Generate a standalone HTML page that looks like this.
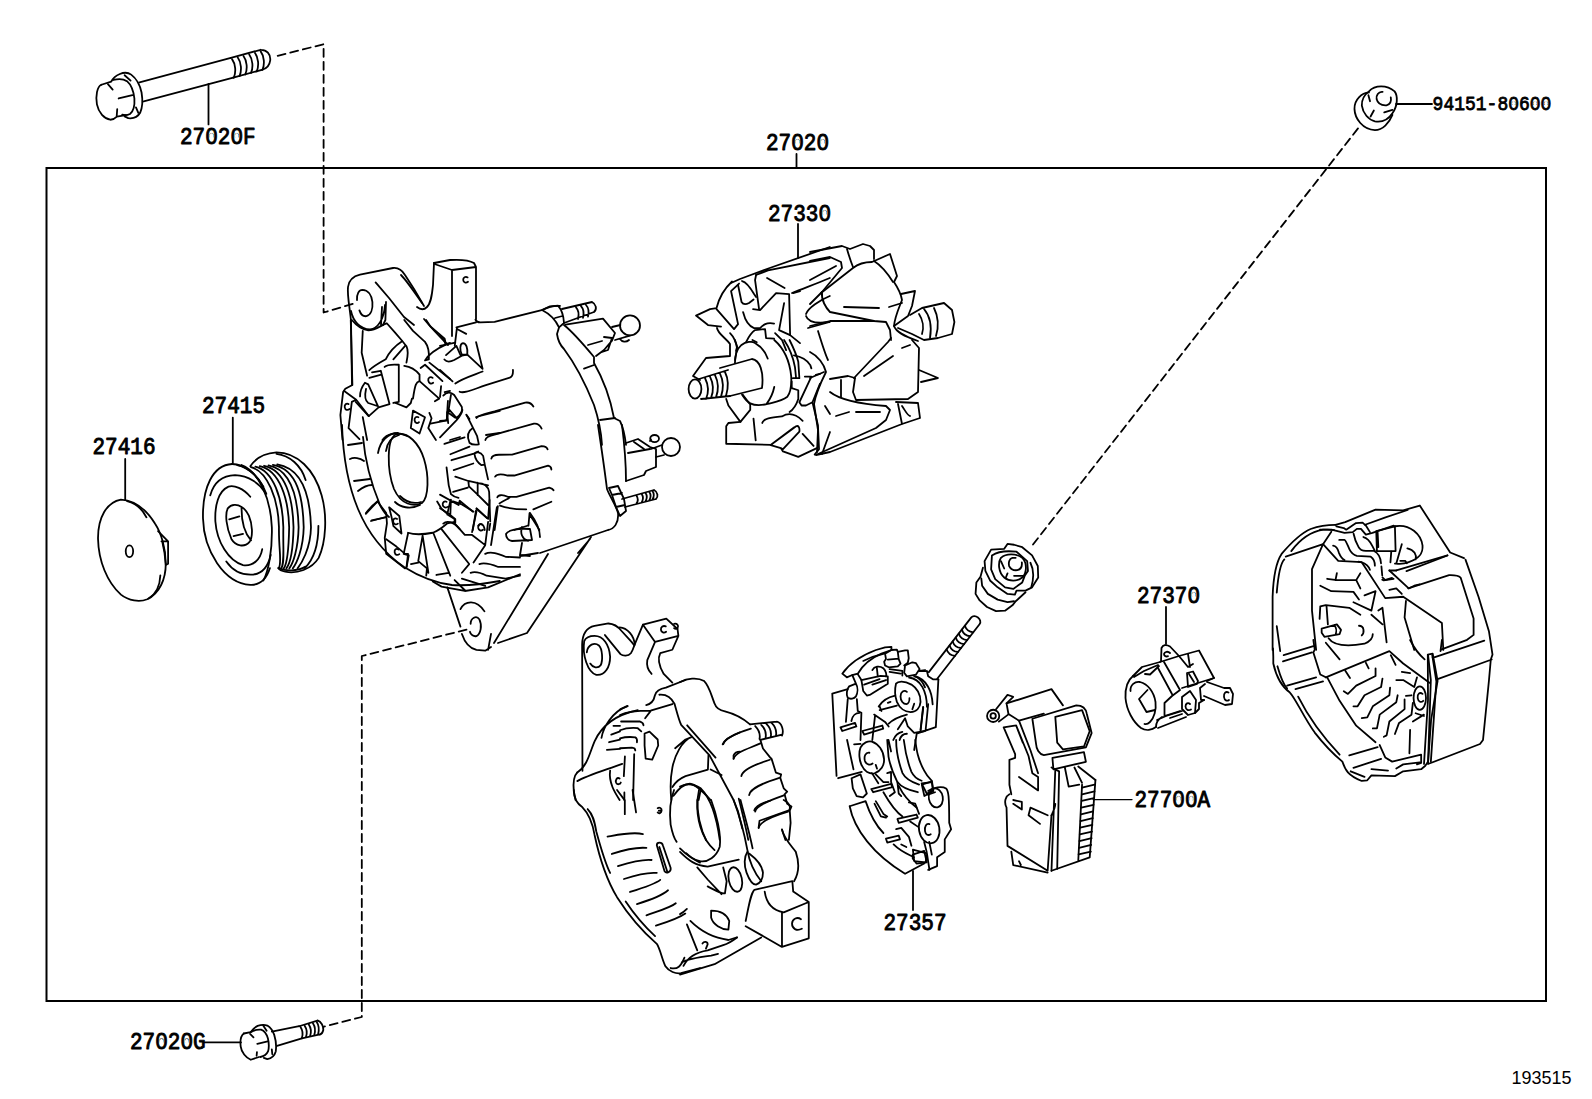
<!DOCTYPE html>
<html><head><meta charset="utf-8"><style>
html,body{margin:0;padding:0;background:#fff;width:1592px;height:1099px;overflow:hidden}
svg{position:absolute;left:0;top:0}
text{font-family:"Liberation Mono",monospace;font-weight:normal;fill:#000;stroke:#000;stroke-width:0.85px}
.n *{vector-effect:non-scaling-stroke}
</style></head><body>
<svg width="1592" height="1099" viewBox="0 0 1592 1099">
<g fill="none" stroke="#000" stroke-width="1.8" stroke-linejoin="round" stroke-linecap="round">
<!-- 00_frame.svg -->
<path d="M46.5 168H1546V1001H46.5Z" stroke-width="2" stroke-linejoin="miter"/>
<path d="M796.5 154V168M798 224V258M1166 607V644M913 871V910M203.5 1042.4H241M232.8 417.6V463M125.2 459V500M208.5 84V124.4M1396 104H1432" stroke-width="1.8"/>
<path d="M1093 799.6H1132" stroke-width="1.3"/>
<g stroke-dasharray="8 5" stroke-width="1.8">
<path d="M277.7 55.9L323.6 44.2V312.5L355.5 303"/>
<path d="M466.5 629.6L361.8 656V1017L324 1026.6"/>
<path d="M1358 128.4L1030.6 547.6"/>
</g>
<g stroke="none">
<text transform="translate(180,143.5) scale(1,1.1)" font-size="21">27020F</text>
<text transform="translate(766,149.5) scale(1,1.1)" font-size="21">27020</text>
<text transform="translate(768,220.5) scale(1,1.1)" font-size="21">27330</text>
<text transform="translate(202,412.5) scale(1,1.1)" font-size="21">27415</text>
<text transform="translate(92.5,454) scale(1,1.1)" font-size="21">27416</text>
<text transform="translate(1137,602.5) scale(1,1.1)" font-size="21">27370</text>
<text transform="translate(1134.5,806.5) scale(1,1.1)" font-size="21">27700A</text>
<text transform="translate(883.5,929.5) scale(1,1.1)" font-size="21">27357</text>
<text transform="translate(130,1049) scale(1,1.1)" font-size="21">27020G</text>
<text transform="translate(1432.6,109.5) scale(1,1.12)" font-size="18" style="stroke-width:0.75px">94151-80600</text>
<text transform="translate(1511.5,1083.8) scale(1,1.05)" font-size="18" style="font-family:'Liberation Sans';font-weight:normal;stroke:none">193515</text>
</g>
<g id="zmask" fill="#fff" stroke="none"><ellipse cx="211.5" cy="135.9" rx="1.8" ry="2.7"/><ellipse cx="236.7" cy="135.9" rx="1.8" ry="2.7"/><ellipse cx="797.5" cy="141.9" rx="1.8" ry="2.7"/><ellipse cx="822.7" cy="141.9" rx="1.8" ry="2.7"/><ellipse cx="824.7" cy="212.9" rx="1.8" ry="2.7"/><ellipse cx="1193.7" cy="594.9" rx="1.8" ry="2.7"/><ellipse cx="1178.6" cy="798.9" rx="1.8" ry="2.7"/><ellipse cx="1191.2" cy="798.9" rx="1.8" ry="2.7"/><ellipse cx="161.5" cy="1041.4" rx="1.8" ry="2.7"/><ellipse cx="186.7" cy="1041.4" rx="1.8" ry="2.7"/><ellipse cx="1513.6" cy="103.2" rx="1.5" ry="2.3"/><ellipse cx="1535.2" cy="103.2" rx="1.5" ry="2.3"/><ellipse cx="1546.0" cy="103.2" rx="1.5" ry="2.3"/></g>

<!-- 01_boltF.svg -->
<g class="n" transform="translate(90 40) scale(0.11935)">
<path d="M95 375C60 390 45 470 58 540C72 610 120 660 170 668C195 668 212 655 225 642L300 630"/>
<path d="M95 375L178 348C190 325 215 300 250 285C280 272 320 272 345 290C385 320 420 380 432 440C442 500 438 570 420 610C400 645 360 660 320 655L290 640"/>
<path d="M195 335C230 325 280 325 310 345C345 375 365 430 372 490C376 550 360 600 335 620C310 632 285 630 270 625"/>
<path d="M150 370L190 415M228 580L224 635M240 490L355 462M290 295L340 340M385 565L405 610"/>
<path d="M415 355L1180 150M450 515L1200 315"/>
<path d="M1180 150L1430 82M1200 315L1440 250M1430 82C1480 80 1515 120 1510 170C1505 210 1480 240 1440 250"/>
<path d="M1190 160C1220 200 1225 270 1205 315M1238 147C1268 187 1273 257 1253 302M1286 134C1316 174 1321 244 1301 289M1334 121C1364 161 1369 231 1349 276M1382 108C1412 148 1417 218 1397 263M1430 95C1460 135 1465 205 1445 250"/>
</g>

<!-- 02_boltG.svg -->
<g class="n" transform="translate(230 1010) scale(0.06911)">
<path d="M200 340C160 370 145 450 155 530C165 610 230 690 300 720L420 680"/>
<path d="M200 340L300 320C320 290 350 255 400 230C440 215 500 210 540 225C580 250 620 300 640 360C665 440 672 530 662 600C645 660 600 700 540 712L490 692"/>
<path d="M300 320C340 295 400 280 450 285C490 300 530 350 548 410C565 480 565 550 550 600C530 645 490 670 440 680"/>
<path d="M290 345L340 395M395 490L545 455M390 610L385 662M480 225L530 300M605 570L612 640"/>
<path d="M605 312L1000 235M680 520L1040 410"/>
<path d="M1000 235L1265 155M1040 410L1300 352M1265 150C1320 170 1355 230 1350 290C1342 330 1320 350 1300 358"/>
<path d="M1020 245C1050 290 1055 360 1040 405M1080 228C1110 273 1115 343 1100 388M1140 210C1170 255 1175 325 1160 372M1200 192C1230 237 1235 307 1220 358M1255 175C1285 220 1290 290 1275 352"/>
</g>

<!-- 03_cap.svg -->
<g class="n" transform="translate(90 440) scale(0.15464)">
<path d="M200 385C110 400 50 500 52 640C55 780 110 920 200 1000C250 1040 320 1050 370 1030C450 990 490 900 490 800C490 700 460 600 420 540C370 460 300 390 200 385Z"/>
<path d="M240 395C300 410 340 450 365 500M455 875C452 950 420 1000 380 1025"/>
<path d="M440 590L505 655L505 800L490 808M462 655L505 655M468 660C478 700 486 750 490 808"/>
<ellipse cx="255" cy="720" rx="24" ry="38"/>
</g>

<!-- 04_pulley.svg -->
<g class="n" transform="translate(195 440) scale(0.14553)">
<path d="M255 165C120 172 50 330 55 540C60 760 200 985 380 995C440 998 490 960 515 880"/>
<path d="M255 165C340 168 420 230 470 320"/>
<path d="M290 172C380 190 450 270 490 370"/>
<path d="M105 380C130 290 190 245 275 242C370 245 445 300 485 365"/>
<path d="M380 390C330 330 270 310 230 320C160 350 135 450 140 560C150 700 230 830 330 860C400 870 450 820 462 750"/>
<path d="M215 835C260 900 330 930 400 925C470 915 505 860 520 790"/>
<path d="M320 460C290 440 250 440 225 470C205 510 215 600 250 680C280 730 340 740 375 700C400 660 395 580 370 520C355 490 340 470 320 460ZM320 460C318 560 340 640 385 690M235 545L305 525M265 660L330 645"/>
<path d="M320 172C440 220 520 400 528 600C532 760 505 900 470 965"/>
<path d="M385 186C497 216 572 400 577 600C574 750 600 850 575 882"/>
<path d="M415 183C539 213 602 400 607 600C604 750 617 850 592 882"/>
<path d="M445 180C581 210 642 400 647 600C644 750 635 850 610 882"/>
<path d="M475 177C623 207 672 400 677 600C674 750 653 850 628 882"/>
<path d="M505 174C665 204 707 400 712 600C709 750 673 850 648 882"/>
<path d="M535 171C707 201 742 400 747 600C744 750 697 850 672 882"/>
<path d="M565 168C749 198 792 400 797 600C794 750 730 850 705 882"/>
<path d="M380 180C420 120 480 90 560 85C700 85 820 200 870 380C910 520 900 700 850 810C800 890 700 920 620 905C595 900 578 890 572 880"/>
<path d="M560 95C650 105 730 175 760 275M848 590C848 700 822 815 755 880"/>
<path d="M575 880C620 900 700 905 760 870"/>
</g>

<!-- 05_altA.svg -->
<g class="n" transform="translate(320 225) scale(0.2)">
<!-- ear -->
<path d="M160 800L155 480C150 420 135 350 140 310C145 270 170 255 200 248L365 215C390 212 410 225 425 250L470 320L520 405"/>
<path d="M405 250C430 275 455 310 510 390"/>
<path d="M485 410C500 422 520 425 535 410C555 390 560 350 565 300L570 190"/>
<path d="M570 190L650 175C700 172 750 178 770 190L780 210L660 225L572 195M660 225L660 555M780 210L780 470"/>
<path d="M738 262C728 255 715 262 716 275C717 288 730 292 740 284"/>
<path d="M185 375C183 345 195 324 212 324C240 325 258 350 262 385C265 420 255 450 232 456C215 458 203 445 197 427"/>
<path d="M155 430C165 480 200 520 250 522C290 518 320 470 325 400M310 410L305 500M330 385L327 475L315 500"/>
<path d="M278 287L345 365L420 460L470 500"/>
<path d="M520 470C560 520 600 560 640 600"/>
<!-- terminal post under box -->
<path d="M650 1075L700 1060M780 960L899 930M830 1050L899 1040"/>
</g>

<!-- 05b_altFan.svg -->
<g class="n" transform="translate(330 320) scale(0.1092)">
<path d="M190 0L205 595L140 630L120 660L95 870L115 1099"/>
<path d="M300 100L290 300L340 510"/>
<path d="M200 0C250 60 300 90 350 95C420 95 480 40 520 30L600 120L660 190L700 240C715 270 720 300 700 390"/>
<path d="M680 0L760 100L870 200C900 240 910 290 905 360L870 370M880 0L920 60L1050 170L1060 220L1099 210M870 370C900 320 960 270 1060 225"/>
<path d="M360 460C380 440 420 410 510 360C530 320 560 260 660 195M580 360L690 235"/>
<path d="M385 480L465 465L545 770L445 800L355 880L235 750M360 530L470 500"/>
<path d="M275 700C275 660 285 620 320 575L350 590L440 790L350 760C320 740 315 700 330 630"/>
<path d="M500 430C520 410 560 405 630 410L630 750L580 760"/>
<path d="M600 760L700 800L740 760L750 720M680 420C720 425 780 450 820 500L820 560C790 570 780 580 760 720"/>
<path d="M830 440L870 410L1030 560M820 560L1000 720L960 745M910 390L1099 540"/>
<path d="M940 530C920 515 895 530 900 555C905 580 925 590 945 575"/>
<path d="M130 650L240 730L200 750L170 990L270 1090M240 730L355 880"/>
<path d="M170 770C150 760 130 775 135 800C140 825 160 830 180 815"/>
<path d="M300 890L340 1099"/>
<path d="M760 830L870 890L820 1040L740 990ZM810 890C790 880 770 895 775 920C780 945 800 950 815 935"/>
<path d="M910 850L930 900L900 990L970 1099M920 950L1070 920M1050 660L1099 650M1080 740L1070 900"/>
<path d="M480 1099C520 1040 600 1020 700 1060"/>
</g>

<!-- 05c_altTop.svg -->
<g class="n" transform="translate(440 300) scale(0.1092)">
<path d="M150 250L330 205M155 255L135 420M165 270L240 310"/>
<path d="M200 500C180 460 180 400 210 395C240 395 255 440 250 500Z"/>
<path d="M40 545C60 570 90 570 130 550L200 510L250 500L390 630M55 505L150 420L190 510M330 385L390 630"/>
<path d="M140 765C200 720 300 690 390 655"/>
<path d="M180 840C220 860 300 820 420 780L640 710C670 700 670 670 668 640"/>
<path d="M335 1080C350 1050 420 1040 500 1020L780 940C810 935 840 950 855 975"/>
<path d="M0 640L115 745M0 420L140 390M0 330C20 340 40 370 50 400"/>
<path d="M30 875C60 840 100 840 130 870L200 980C210 1020 190 1050 150 1080M100 870L80 1000L150 1080M60 1099L80 1000M240 1050L270 1090M10 790L0 890"/>
<path d="M325 180C330 195 345 205 370 205L500 200L940 90C980 70 1040 50 1099 55"/>
</g>

<!-- 05d_altMid.svg -->
<g class="n" transform="translate(440 410) scale(0.1092)">
<path d="M0 100L60 95M0 250L150 95C180 60 200 30 205 0M65 20L75 120M70 20L140 70"/>
<path d="M245 50L300 160L340 240L355 310M300 165C260 190 240 230 270 300C285 315 310 322 355 315"/>
<path d="M40 310L225 250M95 405L270 335M105 460L310 400L350 380M125 550L305 490"/>
<path d="M315 400C330 380 370 380 395 420L410 500L440 635M315 400C320 440 340 480 380 505L410 500"/>
<path d="M415 275C420 245 450 235 500 225L860 125C890 120 920 140 930 170"/>
<path d="M470 445C475 420 500 410 540 410L660 408L930 330C960 330 980 340 985 360"/>
<path d="M505 610C520 585 560 585 620 600L680 600L990 510C1010 515 1020 530 1020 545"/>
<path d="M525 800C530 780 570 770 620 795L700 795L1000 710C1020 715 1035 725 1040 735M545 855C580 830 620 815 640 800"/>
<path d="M550 875C600 895 650 910 790 910M855 910L1020 840"/>
<path d="M60 525L80 690L100 770C120 790 150 800 170 805"/>
<path d="M140 610L260 650L440 690M260 655L265 700L340 770L440 870M345 665L345 780M345 670C400 670 440 700 450 750L460 1020"/>
<path d="M120 750L255 710"/>
<path d="M0 775L170 870L180 830L300 930M0 900L80 950L140 1000L140 1030M100 820L95 950M30 1040C60 1010 120 1020 180 1090"/>
<path d="M60 840C40 830 20 845 25 870C30 895 55 900 75 885"/>
<path d="M335 900L430 990M330 920L300 1099M350 1060C370 1030 400 1040 410 1099"/>
<path d="M530 880L500 1099M820 945L810 1060M820 960C850 1000 880 1050 910 1099M680 1099L800 1060M460 1040L450 1099"/>
</g>

<!-- 05e_altLow.svg -->
<g class="n" transform="translate(360 500) scale(0.14558)">
<path d="M40 95L120 10L180 90L185 160L170 260L180 370L310 470M80 140L175 120"/>
<path d="M200 50L270 110L285 230L230 180L215 110Z"/>
<path d="M255 130C240 120 225 130 228 150C231 168 248 172 260 162"/>
<path d="M180 270L250 320L310 370L330 370L320 460"/>
<path d="M265 340C250 330 235 340 238 360C241 378 258 382 270 372"/>
<path d="M330 225C360 235 420 240 500 225C530 215 560 195 600 160L650 150"/>
<path d="M330 230L300 370L335 380L320 460M430 245L400 420L460 470L455 520M430 245L470 500M350 440L400 430"/>
<path d="M505 230L620 520M525 515L610 500M560 200L750 440L700 500"/>
<path d="M530 10L560 60L600 95L620 10M600 100L650 130L650 160L720 240L770 240L860 310M640 10L700 30L780 80M800 60L880 130L890 0M800 80L770 220M880 150L860 310L780 430M940 50L900 310"/>
<path d="M840 170C825 160 810 172 812 192C815 210 832 214 845 204"/>
<path d="M860 370C900 350 950 370 1000 390L1099 395M820 440C850 430 900 440 950 460L1099 460M760 500C790 490 830 500 870 520L1000 540L1099 520"/>
<path d="M500 560L560 595L720 625L880 600L1099 510M650 550L720 620M700 540L860 590"/>
<path d="M600 600L690 870M690 750C720 690 800 680 855 765"/>
<path d="M760 850C760 810 800 790 820 820C840 860 830 920 800 935C780 940 760 925 755 905"/>
<path d="M700 920C720 980 760 1020 800 1030L860 1035L900 1010M900 920L880 1030"/>
</g>

<!-- 06_altB.svg -->
<g class="n" transform="translate(490 225) scale(0.2)">
<path d="M260 425L300 407L340 403C355 420 368 450 370 490L345 512C335 490 310 450 260 425ZM325 465L362 455"/>
<path d="M360 420L510 385M370 490L520 435M510 385C530 395 537 420 520 435M430 412C442 425 445 450 440 470M455 406C467 419 470 444 465 464M480 400C492 413 495 438 490 458"/>
<path d="M345 512L335 545C340 580 350 600 370 620C430 700 480 800 520 900C540 960 555 1020 560 1099"/>
<path d="M370 500C420 540 470 600 520 660L520 690C560 760 600 860 620 965L650 980C670 1020 675 1060 680 1099"/>
<path d="M378 498L565 468L625 540L610 578L570 625L530 655M490 600L560 580M570 560L610 565L590 625L560 635"/>
<circle cx="700" cy="502" r="50"/>
<path d="M610 510L652 500M625 575L700 553M650 570C660 585 680 588 695 575"/>
<path d="M470 718L520 700M550 975L625 965"/>
</g>

<!-- 07_altC.svg -->
<g class="n" transform="translate(320 425) scale(0.2)">
<path d="M110 0C115 150 140 300 190 420C240 540 320 640 420 710C500 760 580 790 660 800C740 805 820 795 899 780"/>
<path d="M215 60C225 180 250 280 300 400C315 430 330 450 345 460"/>
<path d="M140 100L210 90M170 280L250 270M255 480L330 460M150 170C170 160 200 165 220 180M190 330C215 310 240 300 260 300M230 440C245 420 270 395 290 380"/>
<path d="M385 45C330 60 335 230 370 320C405 400 470 410 510 390C545 360 545 250 520 170C495 90 440 35 385 45Z"/>
<path d="M290 140C300 80 340 40 390 40M330 130C335 90 360 60 395 50M375 385C400 410 450 425 500 400M400 355C430 385 470 395 505 385"/>
</g>

<!-- 08_altD.svg -->
<g class="n" transform="translate(490 425) scale(0.2)">
<path d="M540 0C555 100 570 200 585 320C600 360 630 400 640 440C645 490 620 520 590 525L250 640"/>
<path d="M660 0C670 80 680 180 680 280"/>
<path d="M680 90L740 70L800 110L830 120L830 210L780 230L770 250L680 280M690 140L800 120M720 85L770 120"/>
<circle cx="905" cy="110" r="45"/>
<ellipse cx="823" cy="68" rx="22" ry="18"/>
<path d="M800 80L805 72M805 120L860 100M830 160L870 150"/>
<path d="M595 315L640 305L670 370L680 430L650 455L630 410L610 350L595 315M610 350L660 340M630 410L675 400"/>
<path d="M660 370L820 325M675 410L830 370M820 325C840 335 842 360 830 370M732 352Q746 373 732 393M758 344Q772 366 758 387M777 339Q791 360 777 382M796 334Q810 355 796 377M812 329Q826 351 812 373"/>
<path d="M150 655L240 640"/>
<path d="M290 645L20 1090M505 560L185 1040L40 1090M440 640L500 570"/>
<path d="M200 440C230 480 250 520 250 560M80 545C90 525 140 515 200 520L210 575L110 580C90 578 80 560 80 545ZM160 510C150 540 160 570 190 580M160 590L150 650L200 655"/>
</g>

<!-- 09_rotorL.svg -->
<g class="n" transform="translate(680 240) scale(0.2)">
<path d="M255 215L300 195L420 150L749 35M380 175L440 152L749 90"/>
<path d="M560 265C620 240 680 220 749 190M630 370C640 340 700 300 749 280M630 380C640 410 680 420 749 410M640 440L749 410"/>
<path d="M185 440C190 470 230 490 250 520L250 580L130 590L65 680L100 700"/>
<ellipse cx="75" cy="745" rx="32" ry="48"/>
<path d="M95 695L240 650M105 795L250 780M125 690C140 720 145 760 130 795M150 683C165 713 170 753 155 790M175 676C190 706 195 746 180 787M200 668C215 698 220 738 205 784M225 660C240 690 245 730 230 780"/>
<path d="M200 640L360 595M250 780L410 740M360 595C400 600 420 660 410 740"/>
</g>

<!-- 09b_rotorHub.svg -->
<g class="n" transform="translate(700 340) scale(0.1092)">
<path d="M320 210C320 140 340 80 380 45C420 15 480 10 500 25M500 25C560 60 600 110 620 170"/>
<path d="M680 0C760 70 820 180 835 330C840 420 830 480 800 520C750 560 680 570 620 585C560 600 500 600 460 580C420 560 400 520 385 500M680 430C670 480 650 530 610 585"/>
<path d="M770 0C810 60 850 140 870 250L880 350M850 350L910 350L900 200C880 120 850 60 820 0M840 380L840 440L900 460L900 540C880 600 850 640 820 660"/>
<path d="M860 140C920 150 980 180 1010 230L1020 260M960 335L1020 335L910 570L930 600L970 600L1030 570L1099 400M1060 320L1099 310M1030 570L1080 780L1090 1000L1050 1050"/>
<path d="M240 540L260 600L370 750L460 640L460 590L390 500"/>
<path d="M370 750L260 760L240 790L240 950L650 960L880 790C900 780 915 800 910 840L760 1000L740 990L640 960M650 960L860 800M740 990L760 1020L900 1070L1070 990"/>
<path d="M490 720L510 920M570 760C580 720 650 710 750 700C800 670 860 660 940 740M940 860L1040 970"/>
<path d="M320 0L340 60L330 100M480 0L520 20"/>
</g>

<!-- 09c_rotorTL.svg -->
<g class="n" transform="translate(690 250) scale(0.1001)">
<path d="M420 315C360 370 300 440 265 580L200 590L60 655L180 750L310 765"/>
<path d="M265 590L440 790L480 740L410 410L490 335"/>
<path d="M480 350L515 520C530 545 560 545 590 530L635 495M520 310C560 320 600 370 640 440L660 470"/>
<path d="M660 250L650 300L690 590M630 590L700 600L860 430L990 440L1000 850M770 280L945 380M1030 430L1099 410"/>
<path d="M530 620C550 700 580 760 640 780L700 780C730 750 760 720 840 735"/>
<path d="M940 530L890 800L1000 850L1099 930"/>
<path d="M560 920C590 860 620 820 650 800L750 790L760 880L840 885M850 830L920 900L960 1000M400 830C440 870 460 920 470 980L450 1099"/>
</g>

<!-- 10_rotorR.svg -->
<g class="n" transform="translate(810 240) scale(0.2)">
<path d="M0 60L160 30L200 45L265 20L300 30L320 50L320 95"/>
<path d="M0 105L100 85L155 110L160 140L60 260L0 320M185 45C195 80 205 110 215 135M130 130L0 200"/>
<path d="M55 265L215 140C240 120 270 110 310 110L400 70L435 180L420 210C440 240 455 270 460 300C445 340 425 380 420 430"/>
<path d="M320 105C360 130 390 170 415 210"/>
<path d="M60 260C55 300 80 340 100 360L320 405L380 410L400 450L405 500"/>
<path d="M170 335L345 340M395 335L460 315"/>
<path d="M455 270L525 255L510 330L490 380L420 430C430 460 470 480 540 505"/>
<path d="M500 375L560 340L670 315L710 350L722 410L710 470L640 490L570 500L510 470L440 440"/>
<path d="M570 345C600 380 610 430 600 490M620 340C640 380 645 430 630 480M545 370C565 400 570 440 560 470"/>
<path d="M0 430L100 405L320 405"/>
<path d="M220 690L390 510L405 490M225 690L215 760L230 800L490 795L540 760L545 540L510 500M270 680L415 580M460 540L500 525"/>
<path d="M545 650L640 690L555 710"/>
<path d="M100 760C150 800 250 820 380 830L400 850L380 900L330 940L40 1070"/>
<path d="M430 810L540 815L550 890L460 920L100 1060L30 1075M440 820L460 920M460 830C480 860 490 880 500 880"/>
<path d="M130 880L195 860M230 860L350 860"/>
<path d="M40 455C60 520 80 580 90 600M0 560C40 580 70 620 80 660C60 700 30 760 20 820L40 950L35 1060"/>
<path d="M0 690L70 660M100 695L190 680L225 690M75 830L100 870M155 700L155 785M100 960L60 1070"/>
</g>

<!-- 11_defE1.svg -->
<g class="n" transform="translate(560 610) scale(0.17284)">
<path d="M130 930L128 200C130 130 160 100 200 92L280 78C315 80 335 95 355 120L410 180C420 190 425 200 430 205"/>
<path d="M260 145L350 255C365 268 395 268 410 250C420 235 425 220 430 205L480 85"/>
<path d="M345 100C390 102 430 150 432 200"/>
<path d="M140 180C128 260 160 360 210 375C260 380 290 330 290 270C285 200 250 150 200 150C170 150 148 162 140 180Z"/>
<path d="M155 245C160 200 200 185 225 205C245 225 250 290 235 320C220 340 190 335 175 310"/>
<path d="M480 85L615 50L680 110L685 150L550 185L480 85M550 185L505 290C500 320 510 350 530 370M685 150L650 230L580 250C565 280 570 320 600 370L650 420"/>
<path d="M612 95C598 88 582 98 584 115C586 130 602 135 614 126M660 80C675 75 690 90 680 105C675 112 665 110 660 105"/>
<path d="M390 555C300 590 250 680 240 740M450 580C350 600 250 650 200 760C170 830 160 900 100 940"/>
<path d="M100 940C80 960 75 1000 80 1050L90 1099M100 990C150 960 250 930 360 890"/>
<path d="M290 930C280 1000 320 1060 345 1099"/>
<path d="M345 975C330 965 318 985 325 1000C332 1012 348 1010 352 998"/>
</g>

<!-- 12_defE2.svg -->
<g class="n" transform="translate(680 650) scale(0.17284)">
<path d="M0 185C40 165 100 155 140 180C170 210 180 260 200 310C210 340 230 350 260 355C320 370 370 400 405 430"/>
<path d="M405 430L560 415M465 520L590 490M560 415C590 420 602 470 590 495M435 440C455 460 465 490 460 515M470 433C490 453 500 483 495 508M500 428C520 448 530 478 525 503M530 422C550 442 560 472 555 497"/>
<path d="M465 520L480 570L520 620L530 630L555 710L585 720L580 740L600 800L620 820L605 835L620 890L645 905L635 930L640 1000L630 1099"/>
<path d="M250 545C260 510 330 480 410 455M310 630C320 590 400 570 465 540M355 730C360 690 440 660 520 635M400 840C405 800 480 770 575 740M435 935C440 900 520 870 605 840M455 1030C460 990 540 960 625 935"/>
<path d="M340 860C360 940 380 1020 395 1099"/>
<path d="M0 790C40 770 80 775 120 800C170 850 210 950 230 1099M110 810C95 870 100 960 130 1050L150 1099"/>
<path d="M590 1040L610 1099"/>
</g>

<!-- 12b_defMid.svg -->
<g class="n" transform="translate(620 680) scale(0.1092)">
<path d="M240 230C290 220 310 190 320 140C330 100 360 80 420 70L600 0"/>
<path d="M360 135C420 130 470 160 500 220C520 290 540 370 560 410L820 690L1040 1099M1040 1099L1080 1200L1120 1360"/>
<path d="M615 415L875 710"/>
<path d="M0 320C60 290 150 280 280 280L480 220M0 270L70 240M230 350L280 285"/>
<path d="M10 380L180 378C200 385 215 400 215 415M0 460C50 440 100 435 160 440L195 470M0 535C50 520 100 520 140 525C155 535 158 555 155 570M0 625L110 620C130 622 140 635 140 645"/>
<path d="M-60 420L0 420M-80 500L0 470M-100 570L0 545M-120 640L0 630"/>
<path d="M225 490L270 472L345 545L350 600L295 730L235 720L225 600Z"/>
<path d="M130 680L120 1099M45 700L35 880M40 1030L40 1099"/>
<path d="M660 520C560 560 500 700 480 800C460 900 460 1000 470 1099M505 625L600 545L650 525"/>
<path d="M810 690L805 820L600 880C550 900 510 930 480 980M830 820L930 870"/>
<path d="M490 1060C540 990 600 950 640 950C690 955 740 1000 830 1099M740 1000L720 1099"/>
<path d="M940 590C960 540 1020 510 1099 480M1040 720L1040 690C1050 665 1075 655 1099 655"/>
</g>

<!-- 13_defE3.svg -->
<g class="n" transform="translate(560 790) scale(0.17284)">
<path d="M80 0C80 50 100 80 130 100C170 140 190 200 200 260C230 400 270 520 330 620C400 730 480 820 560 890C580 920 590 980 610 1020C630 1050 670 1065 700 1060L810 1030"/>
<path d="M160 110C190 140 200 180 210 240C240 350 260 420 290 480M380 645C430 720 490 790 550 845"/>
<path d="M275 270C330 260 420 240 480 255M300 370C360 350 440 330 500 335M335 440C400 420 480 400 530 405M370 515C430 495 510 475 560 480M405 590C470 570 550 545 580 520M445 660C510 640 590 610 625 580M500 725C570 700 640 680 670 655M555 785C620 765 690 740 725 715"/>
<path d="M560 320C560 300 590 300 595 320L640 450C645 475 615 485 605 470ZM575 330L620 470"/>
<path d="M330 0L375 60L375 140M420 0L440 130"/>
<path d="M565 105C575 98 590 105 588 120C586 135 572 138 565 130M572 120L585 118"/>
<path d="M660 0C640 50 630 100 640 200C650 250 660 280 675 300M730 365C760 395 790 410 810 420"/>
<path d="M640 1030C680 1040 700 1020 720 970"/>
</g>

<!-- 14_defE4.svg -->
<g class="n" transform="translate(680 800) scale(0.17284)">
<path d="M100 0C95 100 120 220 200 290M180 0C210 80 240 200 230 270C210 330 160 360 120 355C80 350 40 320 0 280"/>
<path d="M0 300C50 350 90 380 160 385L340 345"/>
<path d="M100 390L160 460L240 545M160 500C200 520 240 545 260 540L270 470L250 390"/>
<ellipse cx="320" cy="460" rx="38" ry="72" transform="rotate(-12 320 460)"/>
<path d="M310 0C340 80 370 180 390 290C400 350 430 420 470 470M350 0C370 80 400 180 420 280"/>
<path d="M390 300C370 330 370 380 385 420C400 460 420 490 440 490C470 480 480 460 480 420C475 380 440 340 400 310"/>
<path d="M380 700C400 600 410 540 430 520L650 470L655 530L745 590L745 800L590 850L380 730M745 590L600 650C540 640 500 600 490 530M590 650L590 850"/>
<path d="M700 690C680 675 650 685 648 715C648 745 675 760 705 745"/>
<path d="M600 0C640 20 640 50 630 60L460 120L455 160M430 60C440 30 480 15 520 5M590 170C600 220 640 260 670 300C690 360 690 420 660 470"/>
<path d="M180 640L180 680C190 720 240 750 280 750L285 700C270 660 230 640 180 640Z"/>
<path d="M0 660C20 650 30 640 40 630M60 700C120 760 200 800 280 810L330 795M40 720L100 870"/>
<path d="M0 1010L200 950L470 795M20 960C50 900 100 880 160 870L250 840C280 830 310 810 330 795M10 940C40 920 100 910 180 900L220 890"/>
<path d="M130 830C140 815 160 820 160 835L150 860"/>
</g>

<!-- 15_brushA.svg -->
<g class="n" transform="translate(825 610) scale(0.12739)">
<path d="M815 488L1147 60M881 540L1213 112M1147 60C1174 25 1241 76 1213 112"/>
<path d="M954 308Q970 356 1021 360M978 278Q994 326 1045 329M1002 247Q1018 295 1068 298M1026 216Q1042 264 1092 268M1050 185Q1066 233 1116 237M1074 154Q1090 202 1140 206M1098 124Q1114 171 1164 175"/>
<path d="M800 480L810 520L850 545L890 545"/>
<path d="M890 545L870 920L720 970L700 1099M770 760L750 940M810 740L790 940"/>
<path d="M660 530C750 540 800 640 800 760M700 520C800 540 840 640 845 740"/>
<path d="M740 480L800 480"/>
</g>
<g class="n" transform="translate(825 640) scale(0.091)">
<path d="M190 370C260 270 400 170 560 110L660 80L730 75L730 110L620 150C500 200 420 270 360 370L300 385L240 410Z"/>
<path d="M420 230C480 200 560 170 650 150"/>
<path d="M265 510C240 540 230 600 250 635C280 655 320 645 340 620C360 580 365 520 340 480ZM300 385L340 480M360 375L400 440"/>
<path d="M400 440L610 395L690 400L690 480L500 600L460 610L420 560ZM430 490L600 430M520 490L670 440"/>
<path d="M520 330C540 290 600 280 640 310C670 340 680 380 670 400M570 310L580 400"/>
<path d="M660 150L730 110L790 105L800 130L810 210L830 260L800 290L700 300L660 280L650 240L670 210ZM690 215L810 205"/>
<path d="M800 130L880 115L910 115L920 200L910 250L870 280"/>
<path d="M880 280L960 245L1000 255L1040 320L1000 380L900 400L870 360Z"/>
<path d="M710 320L850 340L850 390M710 350L830 370M1040 340L1099 330"/>
<path d="M80 590L250 540M80 590L127 1494M250 650L230 900M350 650L360 780L400 800L390 1099"/>
<path d="M170 960L330 910L345 950L190 1000ZM410 1000L630 940L640 975L430 1040Z"/>
<path d="M290 890C300 830 340 800 380 800"/>
<path d="M780 480C800 455 860 440 950 490C1010 530 1050 600 1050 680C1045 740 1010 790 940 792C880 792 820 750 790 680C770 620 765 540 780 480Z"/>
<path d="M900 570C870 545 830 570 830 620C830 670 860 705 895 705C915 700 930 670 928 640"/>
<path d="M980 700L960 760"/>
<path d="M590 730C620 680 680 630 770 610M600 770L790 720M600 730L620 780M690 690L720 680M550 830L520 1099M540 820L660 900L700 950"/>
<path d="M700 920C750 870 820 840 900 820M800 980L880 860L910 950L980 1020L1099 1000M1080 740L1050 1000"/>
<path d="M1000 400C1050 430 1080 470 1099 520M750 1099C770 1050 800 1020 850 1010M820 1099C830 1060 860 1030 900 1030"/>
</g>

<!-- 16_brushB.svg -->
<g class="n" transform="translate(825 740) scale(0.12739)">
<path d="M760 350L840 325L850 400L780 440Z"/>
<ellipse cx="870" cy="455" rx="55" ry="75" transform="rotate(-10 870 455)"/>
<path d="M810 400C850 370 920 360 950 380C970 400 975 440 975 650L990 700L940 780L940 880L880 920L880 990L810 1020"/>
<ellipse cx="818" cy="700" rx="80" ry="112" transform="rotate(-10 818 700)"/>
<path d="M820 660C795 650 780 680 785 715C790 745 810 752 830 740"/>
<path d="M690 860L800 890L790 960L700 950ZM800 890L820 1020"/>
</g>
<g class="n" transform="translate(835 740) scale(0.12739)">
<path d="M25 300L210 250M95 0L145 230"/>
<path d="M200 60C220 20 260 5 290 12C340 30 380 80 385 150C388 200 360 245 310 262C270 268 230 245 210 200C190 160 185 100 200 60Z"/>
<path d="M270 100C240 95 225 130 235 165C245 195 275 200 295 185"/>
<path d="M150 35L200 30M320 195L330 225"/>
<path d="M410 0L420 130C430 190 450 250 490 330C520 370 560 390 650 410M480 0C480 80 490 150 530 260C550 300 600 330 660 350M540 0C550 80 560 150 600 250C620 290 650 310 680 320M630 0C640 80 650 150 700 240C720 280 740 300 760 320M420 0L440 90"/>
<path d="M130 300L200 270L250 420L220 450L170 440L140 380Z"/>
<path d="M290 260L340 340M320 270L380 330L420 330M410 260L440 250L440 330L470 410L430 440"/>
<path d="M285 385L440 345L450 370L300 410Z"/>
<path d="M115 520C150 700 300 900 550 1050L700 970M115 520L240 480C280 600 330 680 380 730"/>
<path d="M320 480L380 580L410 600M310 500L360 600L400 610"/>
<path d="M380 410C420 480 470 560 530 600M490 330L500 420L520 440M500 360C540 440 600 500 640 530"/>
<path d="M490 620L640 585L650 610L500 650Z"/>
<path d="M590 640L650 680M580 490L630 500L660 580"/>
<path d="M400 775L500 750L510 780L410 805Z"/>
<path d="M480 700L520 690L580 760L600 830M460 820C520 880 580 900 620 920M520 820L560 840"/>
<path d="M610 900L700 870L720 960L640 970L610 930Z"/>
<path d="M700 800L720 880M740 800L760 900M680 340L760 330L770 400L720 420ZM730 430L785 410"/>
</g>

<!-- 17_bushing.svg -->
<g class="n" transform="translate(960 530) scale(0.0819)">
<path d="M380 240L540 230L580 170L660 180L760 210L880 310L950 440L955 580L880 700L800 740L690 740L670 790L580 780L460 700L370 620L310 500L300 380Z"/>
<path d="M390 310C450 270 560 250 690 265L820 380L830 500L790 560L760 640L650 720L550 700L430 600L380 480Z"/>
<path d="M500 340C560 290 680 280 760 340C820 400 820 520 760 580C700 630 600 630 540 580C470 520 460 400 500 340Z"/>
<path d="M680 340L640 340C600 350 590 400 600 440C620 480 660 495 700 490C740 480 760 440 755 395"/>
<path d="M500 380L540 470M580 530L560 580M660 560L780 560M860 400C900 480 900 600 870 700"/>
<path d="M280 460L250 570L200 640L190 780L240 860L330 940L440 990L550 985L640 920L680 870L800 760"/>
<path d="M260 590L270 680L340 780L460 850L580 880L660 870"/>
</g>
<g class="n" transform="translate(1340 75) scale(0.05461)">
<path d="M530 300C640 180 860 180 1000 300C1060 380 1060 560 960 700C880 820 760 870 640 850C520 820 420 700 400 560C395 450 450 360 530 300Z"/>
<path d="M530 320C400 330 260 450 265 620C270 800 420 1000 640 1010C780 1010 900 880 960 730"/>
<path d="M780 310C700 300 660 380 670 440C690 520 760 560 850 555C920 540 945 480 930 410"/>
<path d="M520 370L550 480M620 650L560 760M810 685L960 640"/>
</g>

<!-- 18_regulator.svg -->
<g class="n" transform="translate(975 670) scale(0.19118)">
<path d="M165 175L400 100L460 185M165 175L175 230L230 265L360 228"/>
<circle cx="95" cy="240" r="32"/><circle cx="95" cy="240" r="14"/>
<path d="M110 205L170 130L200 140L165 175M125 270L175 232"/>
<path d="M300 255L530 185C560 185 580 200 585 230L610 330L580 405L360 445C335 440 320 410 320 390Z"/>
<path d="M420 245L560 210L600 320L570 400L460 415L430 380Z"/>
<path d="M405 460L570 430L580 480L410 520Z"/>
<path d="M150 300L215 290L250 380M150 300L210 440L210 460L180 470L180 600L190 650M215 290L280 450L300 540L330 560L330 630L230 560"/>
<path d="M230 265L290 420L330 540"/>
<path d="M165 720L170 920L380 1050L400 760M165 720C150 690 160 660 180 650"/>
<path d="M400 510L440 530L430 1040M420 520L400 1050M400 760C410 740 420 720 420 700"/>
<path d="M470 510L490 610L545 600M520 510L560 590M540 505L630 575"/>
<path d="M630 575L600 980L400 1050M560 600L540 1000"/>
<path d="M560 615L625 600M560 650L625 635M558 685L622 670M556 720L620 705M554 755L618 740M552 790L616 775M550 825L614 810M548 860L612 845M546 895L610 880M544 930L608 915M542 965L606 950"/>
<path d="M200 680L245 690L245 730L200 700M290 720L280 760L340 805M290 720L380 760"/>
<path d="M190 950L200 1020L380 1060M230 1000L240 1020"/>
</g>

<!-- 19_brush27370.svg -->
<g class="n" transform="translate(1110 630) scale(0.1)">
<path d="M230 460C180 500 150 580 155 680C165 800 230 920 310 980C360 1010 420 1000 460 970"/>
<path d="M230 460L320 370L500 320M240 470L340 410L480 350M350 440L400 445L490 360"/>
<path d="M205 610C200 550 250 510 300 520C380 540 440 620 455 720C465 800 440 880 400 920C380 940 360 945 345 940"/>
<path d="M375 600L290 690L365 820L450 800"/>
<path d="M500 320L690 260L890 205L1040 480L970 510M510 310L515 180C530 150 560 140 600 165L690 260"/>
<path d="M600 230C580 210 545 215 540 240C540 260 560 270 580 262"/>
<path d="M480 380L620 640M540 320L700 600M700 600L620 660L545 730L545 860L700 810M720 580L1040 480"/>
<path d="M690 260L780 370L830 340M780 240L800 370"/>
<path d="M770 430L830 415L880 510L870 540L780 570ZM790 440L840 520"/>
<path d="M970 520L1140 580L1200 580L1230 640L1220 740L1150 750L940 660"/>
<path d="M1185 625C1160 610 1135 630 1140 670C1145 705 1170 715 1190 700"/>
<path d="M900 580L950 540M900 580L910 700L940 700"/>
<path d="M720 670L800 610L860 700L850 830L780 850L720 790Z"/>
<path d="M800 740C780 720 755 735 755 765C758 800 785 810 810 795"/>
<path d="M470 900L560 860L720 810M480 980L760 870M460 970C460 930 470 900 520 870M600 880L720 840"/>
<path d="M850 830L890 790L890 730L940 700"/>
</g>

<!-- 20_coverA.svg -->
<g class="n" transform="translate(1265 500) scale(0.1382)">
<path d="M55 1085L55 700C60 560 80 450 120 390C180 320 260 240 330 210C400 185 460 180 510 180"/>
<path d="M85 670C95 550 110 460 140 430M190 370C250 290 330 230 420 215C460 212 480 214 500 218"/>
<path d="M510 180L580 160L800 70L1000 75L1120 40L1340 380L1440 420"/>
<path d="M150 410L420 320L480 230M420 320L340 500L340 800L370 1085"/>
<path d="M805 225L940 190L945 370L810 370ZM815 235L820 340"/>
<path d="M940 190C1050 170 1130 250 1140 330C1145 400 1100 430 1040 450C990 470 950 460 940 460M1030 350C1080 360 1100 400 1090 430M990 320L950 460"/>
<path d="M1320 400L950 510M900 510L1040 640L1080 620L1120 610"/>
<path d="M420 320L530 440L700 450L870 710L1000 700L1280 890L1290 1085"/>
<path d="M450 570L520 580L660 580L690 530M520 530L510 580M660 580L690 640"/>
<path d="M400 620L480 660L640 665L680 720"/>
<path d="M720 690L800 660L770 800M640 740L770 800"/>
<path d="M395 860L400 770L440 760L610 780L690 830M445 765L455 900"/>
<path d="M410 930L520 900L550 940L540 970L430 990L410 960ZM500 905C515 920 520 950 510 975"/>
<path d="M680 910C720 910 720 960 700 980M460 1000C500 1060 600 1060 720 1040C770 1020 780 990 780 970"/>
<path d="M820 800L850 780L880 1030M770 830L850 900M1020 730L1010 850L1080 1085M900 650L950 640L990 680M850 560L870 580L930 570M900 510L950 510"/>
</g>

<!-- 20b_coverTop.svg -->
<g class="n" transform="translate(1320 510) scale(0.0819)">
<path d="M0 240L140 240L300 280L400 270L450 230L500 230L560 300L640 280L900 190M550 180L800 90L1070 0"/>
<path d="M200 200L290 220L320 240L440 160L520 155L560 190L610 270"/>
<path d="M160 435C200 440 220 480 230 520C250 570 280 600 300 610"/>
<path d="M235 365L300 365C320 380 340 440 360 480C380 520 410 550 450 560L620 570C650 590 670 620 670 680"/>
<path d="M410 290C420 340 440 400 470 450C490 490 520 500 560 500L660 500C700 520 740 570 745 650"/>
<path d="M530 330C580 340 620 400 640 440L670 500M470 630L510 640C560 650 600 700 610 730"/>
<path d="M870 510L860 640M750 690L760 800M980 620L1040 620L1060 650M760 850L780 860L880 830"/>
</g>

<!-- 21_coverB.svg -->
<g class="n" transform="translate(1265 640) scale(0.1382)">
<path d="M58 60L60 120L60 170C80 260 110 330 180 380C220 420 280 560 360 670C430 760 500 830 560 880C580 940 600 980 700 1020L740 1015L770 980L940 985L1000 950L1130 935L1160 910L1180 880"/>
<path d="M90 190C110 260 130 320 160 350M240 410C300 530 380 660 540 830M85 -100L110 80"/>
<path d="M135 110L350 45M130 155L340 90M160 330L370 270M220 355L420 300"/>
<path d="M350 0L360 70L350 90L400 250L440 270"/>
<path d="M440 270L900 80L1000 170L1190 310M450 270L540 440L660 620L800 740"/>
<path d="M830 760L870 850L920 880L1130 830L1130 890L1100 900M610 835L815 775M640 925L840 860M620 950L720 990M770 935L890 945M950 930L1000 900L1120 885"/>
<path d="M570 370L600 390L660 330L800 260L800 205M640 480L670 480L720 400L840 340L850 280M700 565L740 560L780 480L900 400L905 345M780 640L810 640L830 540L950 450L960 400M860 700L880 690L900 590L1010 500L1010 430M940 680L970 600L1060 540L1070 455"/>
<path d="M580 220L615 275M730 165L750 205M910 110L945 180M990 230L1050 240"/>
<path d="M950 290L1000 290L1080 340L1100 270M1020 405L1060 400"/>
<ellipse cx="1120" cy="420" rx="45" ry="85"/>
<path d="M1140 390C1120 375 1100 390 1105 420C1110 450 1130 455 1145 440"/>
<path d="M1070 590L1150 540M1090 530L1150 550M1050 650L1045 820"/>
<path d="M1180 110L1200 290L1180 880M1210 110L1240 300L1200 880M1050 0C1080 60 1120 110 1155 140"/>
<path d="M440 20L540 140M1280 0L1270 80"/>
</g>
<path d="M1406.5 571.1L1447.5 555.5M1408.2 588.3L1449.1 575.2C1455 575 1459 576 1460.6 577.6L1473.6 618.6L1473.6 634.9L1467.1 639.8L1440.9 649.7M1432.7 657.8L1484.3 640.7M1437.6 679.1L1491.7 659.5M1427.8 654.6L1432.7 653.7L1437.6 680.8L1431.1 719.9L1428 764M1465.5 559.6L1478.6 597L1489 631.6L1492.5 654.6L1490.8 659.5L1489 680L1483 740L1480 744L1428 764M1427.8 654.6L1428 700L1424 764"/>

</g>
</svg>
</body></html>
